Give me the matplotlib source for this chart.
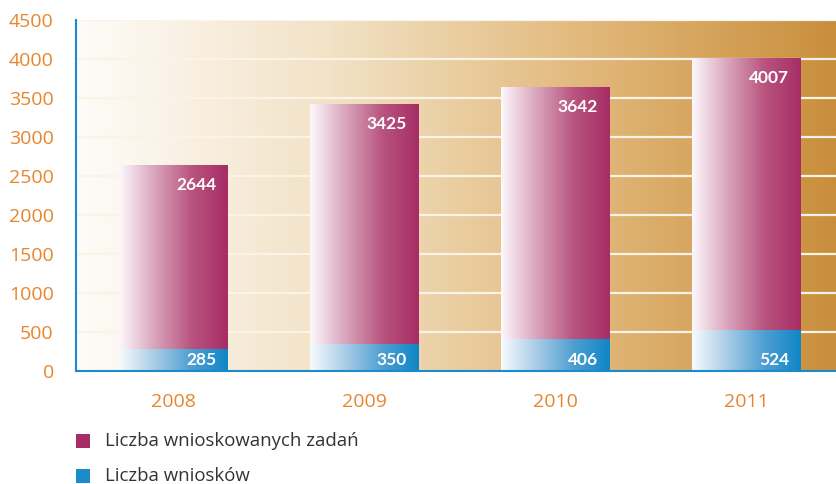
import numpy as np
import matplotlib
matplotlib.use("Agg")
import matplotlib.pyplot as plt
from matplotlib.colors import LinearSegmentedColormap
from matplotlib.patches import Rectangle

years = ["2008", "2009", "2010", "2011"]
zadania = [2644, 3425, 3642, 4007]
wnioski = [285, 350, 406, 524]
yticks = [0, 500, 1000, 1500, 2000, 2500, 3000, 3500, 4000, 4500]
legend_labels = ["Liczba wnioskowanych zadań", "Liczba wniosków"]

plt.rcParams['font.family'] = ['Open Sans', 'DejaVu Sans']

ORANGE = "#e8852c"
BLUE = "#1a8bcb"
MAGENTA = "#a62d66"
W, H = 837, 484

fig = plt.figure(figsize=(W/100, H/100), dpi=100)
ax = fig.add_axes([76/W, 113/H, 1 - 76/W, (371-20)/H])

x = np.arange(len(years))
ax.set_xlim(-0.508, 3.476)
ax.set_ylim(0, 4500)

# background gradient
bg = LinearSegmentedColormap.from_list("bg", ["#fefcf9", "#f2e2c6", "#e2b97c", "#c98e3c"])
grad = np.linspace(0, 1, 256).reshape(1, -1)
ax.imshow(grad, cmap=bg, aspect="auto", extent=(-0.508, 3.476, 0, 4500), zorder=0)

for yv in yticks[1:]:
    ax.axhline(yv, color="#fbf3e6", lw=1.6, zorder=1)

mag_cmap = LinearSegmentedColormap.from_list("mag", ["#fdf8fb", "#d9a3bb", "#b8547f", MAGENTA])
blue_cmap = LinearSegmentedColormap.from_list("blu", ["#f8fbfe", "#a6cbe6", "#4e9fd2", "#0f86c6"])

w = 0.566
bars_top = ax.bar(x, zadania, width=w, color="none", edgecolor="none", zorder=2)
bars_bot = ax.bar(x, wnioski, width=w, color="none", edgecolor="none", zorder=3)

for rect in bars_top:
    x0 = rect.get_x(); x1 = x0 + rect.get_width(); h = rect.get_height()
    im = ax.imshow(grad, cmap=mag_cmap, aspect="auto", extent=(x0, x1, 0, h), zorder=2)
    im.set_clip_path(rect)
for rect in bars_bot:
    x0 = rect.get_x(); x1 = x0 + rect.get_width(); h = rect.get_height()
    im = ax.imshow(grad, cmap=blue_cmap, aspect="auto", extent=(x0, x1, 0, h), zorder=3)
    im.set_clip_path(rect)

lab_font = dict(color="white", fontsize=12.5, fontweight="bold", family=["Lato", "DejaVu Sans"], zorder=5)
for xi, v in zip(x, zadania):
    ax.annotate(str(v), (xi + w/2, v), xytext=(-11, -20), textcoords="offset pixels",
                ha="right", va="center", **lab_font)
for xi, v in zip(x, wnioski):
    ax.annotate(str(v), (xi + w/2, 0), xytext=(-11, 11), textcoords="offset pixels",
                ha="right", va="center", **lab_font)

ax.set_xticks(x)
ax.set_xticklabels(years)
ax.set_yticks(yticks)
ax.tick_params(axis="both", length=0, colors=ORANGE, labelsize=14)
ax.tick_params(axis="x", pad=16)
ax.tick_params(axis="y", pad=16)

for s in ["top", "right"]:
    ax.spines[s].set_visible(False)
for s in ["left", "bottom"]:
    ax.spines[s].set_color(BLUE)
    ax.spines[s].set_linewidth(1.5)
    ax.spines[s].set_zorder(6)

# legend
leg_colors = [MAGENTA, BLUE]
leg_y = [441, 476]
for lab, col, yc in zip(legend_labels, leg_colors, leg_y):
    fig.patches.append(Rectangle((76/W, 1 - (yc + 7)/H), 14/W, 14/H,
                                 transform=fig.transFigure, facecolor=col, edgecolor="none"))
    fig.text(105/W, 1 - yc/H, lab, ha="left", va="center", fontsize=13.4, color="#333333")

fig.savefig("out.png", dpi=100)
